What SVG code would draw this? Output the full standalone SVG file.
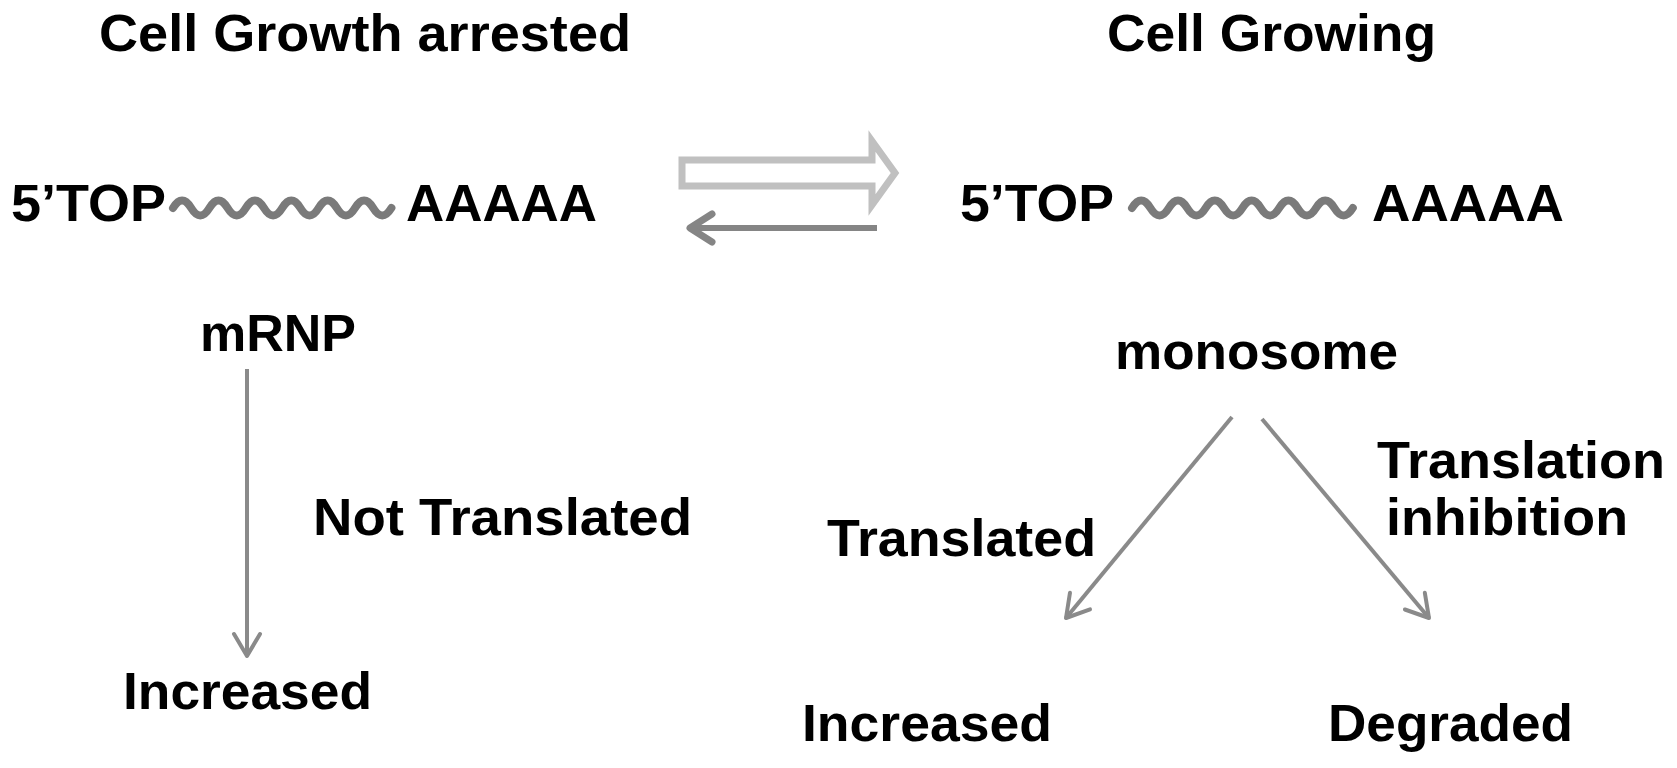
<svg xmlns="http://www.w3.org/2000/svg" width="1677" height="768" viewBox="0 0 1677 768">
<style>
  text { font-family: "Liberation Sans", Arial, sans-serif; font-weight: bold; font-size: 52px; fill: #000; }
  .wave { fill: none; stroke: #7a7a7a; stroke-width: 8; stroke-linecap: round; }
  .conn { fill: none; stroke: #8a8a8a; stroke-width: 4; }
</style>
<defs>
  <marker id="vhead" markerUnits="userSpaceOnUse" viewBox="-28 -18 32 36" refX="0" refY="0" markerWidth="32" markerHeight="36" orient="auto" overflow="visible">
    <path d="M-22,-13 L0,0 L-22,13" fill="none" stroke="#8a8a8a" stroke-width="4" stroke-linecap="round" stroke-linejoin="round"/>
  </marker>
  <marker id="vheadThick" markerUnits="userSpaceOnUse" viewBox="-30 -20 34 40" refX="0" refY="0" markerWidth="34" markerHeight="40" orient="auto" overflow="visible">
    <path d="M-22,-14 L0,0 L-22,14" fill="none" stroke="#858585" stroke-width="7" stroke-linecap="round" stroke-linejoin="round"/>
  </marker>
</defs>
<rect width="1677" height="768" fill="#fff"/>

<g id="title-arrested"><text x="99" y="51" textLength="532" lengthAdjust="spacingAndGlyphs">Cell Growth arrested</text></g>
<g id="title-growing"><text x="1107" y="51" textLength="329" lengthAdjust="spacingAndGlyphs">Cell Growing</text></g>

<g id="mrna-left">
  <text x="11" y="221" textLength="155" lengthAdjust="spacingAndGlyphs">5’TOP</text>
  <path class="wave" d="M173,208 q9.1,-15 18.2,0 t18.2,0 t18.2,0 t18.2,0 t18.2,0 t18.2,0 t18.2,0 t18.2,0 t18.2,0 t18.2,0 t18.2,0 t18.2,0"/>
  <text x="406" y="221" textLength="191" lengthAdjust="spacingAndGlyphs">AAAAA</text>
</g>

<g id="mrna-right">
  <text x="960" y="221" textLength="154" lengthAdjust="spacingAndGlyphs">5’TOP</text>
  <path class="wave" d="M1132,208 q9.2,-15 18.4,0 t18.4,0 t18.4,0 t18.4,0 t18.4,0 t18.4,0 t18.4,0 t18.4,0 t18.4,0 t18.4,0 t18.4,0 t18.4,0"/>
  <text x="1372" y="221" textLength="192" lengthAdjust="spacingAndGlyphs">AAAAA</text>
</g>

<g id="mrnp"><text x="200" y="351" textLength="156" lengthAdjust="spacingAndGlyphs">mRNP</text></g>
<g id="not-translated"><text x="313" y="535" textLength="379" lengthAdjust="spacingAndGlyphs">Not Translated</text></g>
<g id="increased-left"><text x="123" y="709" textLength="249" lengthAdjust="spacingAndGlyphs">Increased</text></g>

<g id="monosome"><text x="1115" y="369" textLength="283" lengthAdjust="spacingAndGlyphs">monosome</text></g>
<g id="translated"><text x="827" y="556" textLength="269" lengthAdjust="spacingAndGlyphs">Translated</text></g>
<g id="translation-inhibition">
  <text x="1377" y="478" textLength="288" lengthAdjust="spacingAndGlyphs">Translation</text>
  <text x="1386" y="535" textLength="242" lengthAdjust="spacingAndGlyphs">inhibition</text>
</g>
<g id="increased-right"><text x="802" y="741" textLength="250" lengthAdjust="spacingAndGlyphs">Increased</text></g>
<g id="degraded"><text x="1328" y="741" textLength="245" lengthAdjust="spacingAndGlyphs">Degraded</text></g>

<g id="connectors">
  <path d="M682,160 H872 V141 L895,173 L872,205 V186 H682 Z" fill="none" stroke="#c0c0c0" stroke-width="7" stroke-linejoin="miter"/>
  <line x1="877" y1="228" x2="690" y2="228" stroke="#858585" stroke-width="6" marker-end="url(#vheadThick)"/>
  <line class="conn" x1="247" y1="369" x2="247" y2="656" marker-end="url(#vhead)"/>
  <line class="conn" x1="1232" y1="417" x2="1066" y2="618" marker-end="url(#vhead)"/>
  <line class="conn" x1="1262" y1="419" x2="1429" y2="618" marker-end="url(#vhead)"/>
</g>
</svg>
